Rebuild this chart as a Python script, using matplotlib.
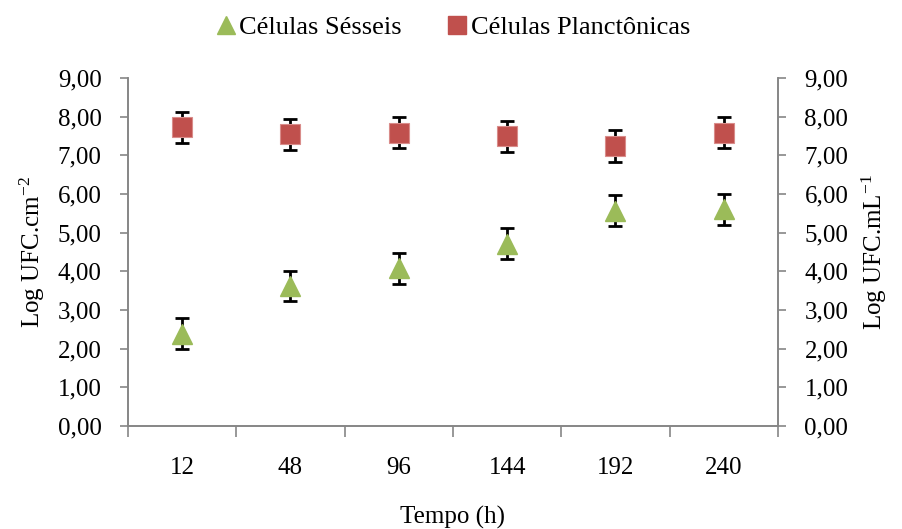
import numpy as np
import matplotlib.pyplot as plt
from matplotlib.lines import Line2D

plt.rcParams['font.family'] = ['Liberation Serif', 'DejaVu Serif']
plt.rcParams['mathtext.fontset'] = 'custom'
plt.rcParams['mathtext.rm'] = 'Liberation Serif'

tempo = ['12', '48', '96', '144', '192', '240']
sesseis = [2.39, 3.62, 4.08, 4.71, 5.57, 5.60]
sesseis_err = [0.40, 0.40, 0.40, 0.40, 0.40, 0.40]
planct = [7.72, 7.54, 7.59, 7.49, 7.25, 7.59]
planct_err = [0.40, 0.41, 0.41, 0.41, 0.41, 0.41]

verde = '#9BBB59'
vermelho = '#C0504D'
cinza = '#868686'
fs = 18

fig = plt.figure(figsize=(9.03, 5.29), dpi=100)
ax = fig.add_axes([128 / 903, 103 / 529, 650 / 903, 348 / 529])
ax2 = ax.twinx()

x = np.arange(len(tempo))

ax.errorbar(x, sesseis, yerr=sesseis_err, fmt='none', ecolor='black',
            elinewidth=2, capsize=5, capthick=2, zorder=2)
ax.plot(x, sesseis, linestyle='none', marker='^', markersize=15,
        color=verde, markeredgecolor=verde, zorder=3)

ax2.errorbar(x, planct, yerr=planct_err, fmt='none', ecolor='black',
             elinewidth=2, capsize=5, capthick=2, zorder=2)
ax2.plot(x, planct, linestyle='none', marker='s', markersize=14,
         color=vermelho, markeredgecolor='#D98C8A', markeredgewidth=0.8, zorder=3)

for a in (ax, ax2):
    a.set_ylim(0, 9)
    a.set_yticks(np.arange(0, 10, 1))
    a.set_yticklabels([f'{v:.2f}'.replace('.', ',') for v in range(10)], fontsize=fs)
    a.set_xlim(-0.5, len(tempo) - 0.5)
    a.spines['top'].set_visible(False)
    for s in ('left', 'right', 'bottom'):
        a.spines[s].set_color(cinza)
        a.spines[s].set_linewidth(1.2)
    a.tick_params(axis='y', direction='out', length=6, width=1.2, color=cinza, pad=13)

ax.set_xticks(x)
ax.set_xticklabels(tempo, fontsize=fs)
ax.tick_params(axis='x', length=0, pad=22)
ax.set_xticks(np.arange(-0.5, len(tempo)), minor=True)
ax.tick_params(axis='x', which='minor', direction='out', length=8, width=1.2, color=cinza)

ax.set_xlabel('Tempo (h)', fontsize=fs, labelpad=20)
ax.set_ylabel('Log UFC.cm$\\mathregular{^{-2}}$', fontsize=fs, labelpad=8)
ax2.set_ylabel('Log UFC.mL$\\mathregular{^{-1}}$', fontsize=fs, labelpad=8)

handles = [
    Line2D([], [], linestyle='none', marker='^', markersize=13, color=verde),
    Line2D([], [], linestyle='none', marker='s', markersize=13, color=vermelho),
]
fig.legend(handles, ['Células Sésseis', 'Células Planctônicas'], loc='center',
           bbox_to_anchor=(0.5, 0.948), ncol=2, frameon=False, fontsize=19,
           handletextpad=0.0, columnspacing=1.6, handlelength=1.0)

fig.savefig('out.png', dpi=100)
